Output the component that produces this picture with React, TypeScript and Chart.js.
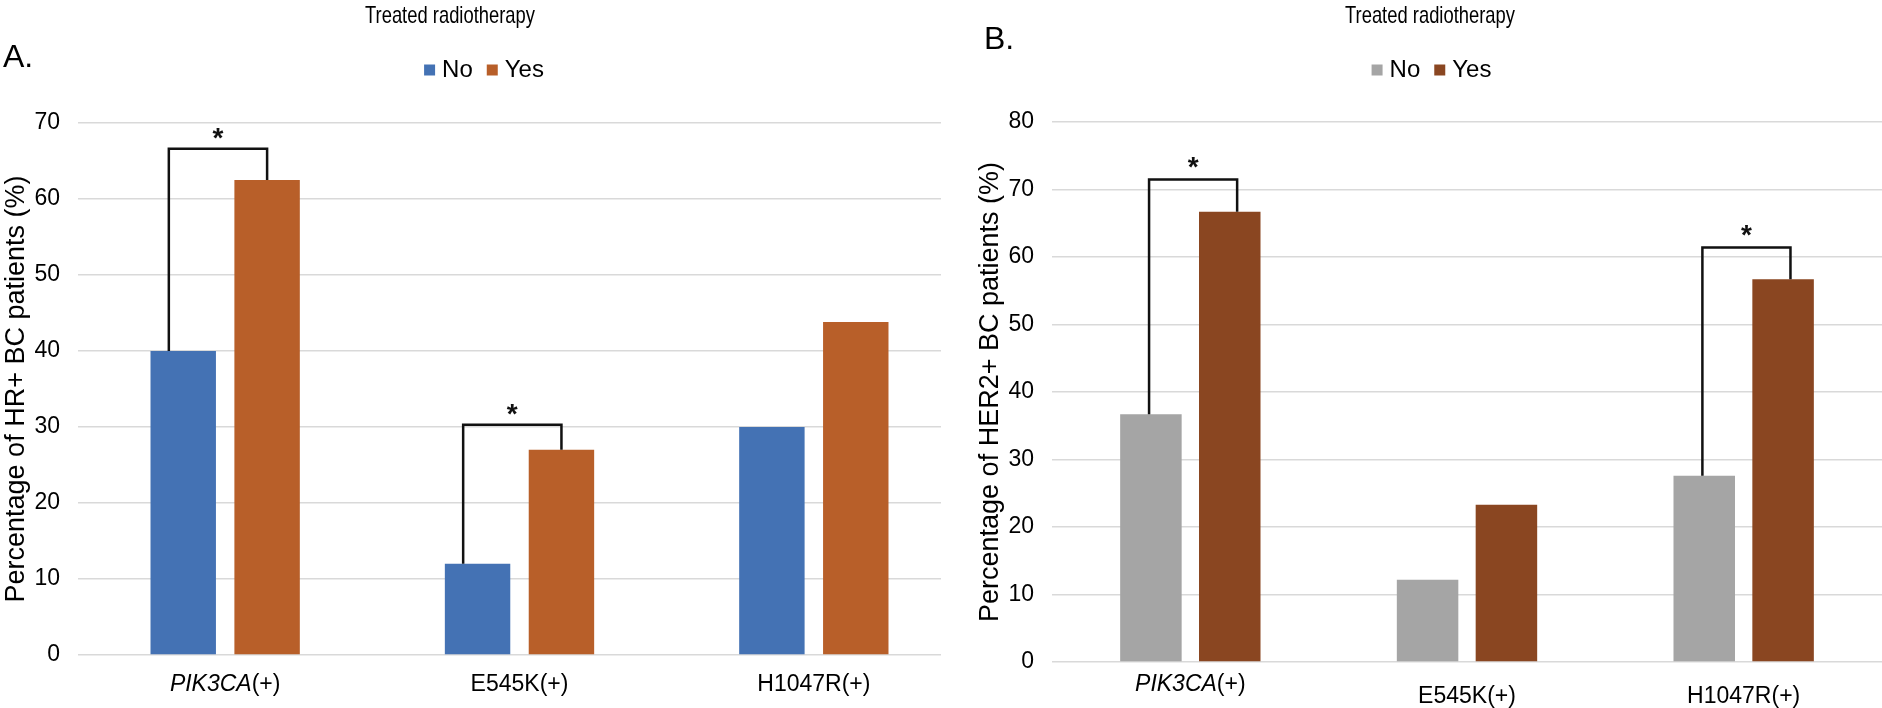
import React, { useEffect, useRef } from 'react';
import { Chart, registerables } from 'chart.js';

Chart.register(...registerables);

// ---------- data ----------
const categories = ['PIK3CA(+)', 'E545K(+)', 'H1047R(+)'];
const italicPrefixes = ['PIK3CA'];
const seriesNames = ['No', 'Yes'];
const chartTitle = 'Treated radiotherapy';

const hrNo = [40, 12, 30];
const hrYes = [62.5, 27, 43.8];
const hrMax = 70;
const hrBracketIndex = [0, 1];
const hrBracketHeight = [66.6, 30.3];

const her2No = [36.7, 12.2, 27.6];
const her2Yes = [66.7, 23.3, 56.7];
const her2Max = 80;
const her2BracketIndex = [0, 2];
const her2BracketHeight = [71.5, 61.4];

const tickStep = 10;
const sigMark = '*';

const FONT = "'Liberation Sans', Arial, sans-serif";
const NARROW = "'Liberation Sans Narrow', 'Liberation Sans', Arial, sans-serif";
const TITLE_WIDTH = 170;

interface PanelCfg {
  letter: string;
  letterX: number;
  letterY: number;
  titleX: number;
  yTitle: string;
  no: number[];
  yes: number[];
  max: number;
  colors: [string, string];
  bracketIndex: number[];
  bracketHeight: number[];
  leftShift: number;
  rightShift: number;
  starGap: number;
  labelOffsets: number[];
  padLeft: number;
  padBottom: number;
  spacer: number;
}

const panelA: PanelCfg = {
  letter: 'A.',
  letterX: 3,
  letterY: 67,
  titleX: 450,
  yTitle: 'Percentage of HR+ BC patients (%)',
  no: hrNo,
  yes: hrYes,
  max: hrMax,
  colors: ['#4472B4', '#B85F29'],
  bracketIndex: hrBracketIndex,
  bracketHeight: hrBracketHeight,
  leftShift: -0.22,
  rightShift: 0,
  starGap: 15,
  labelOffsets: [36, 36, 36],
  padLeft: 12,
  padBottom: 53,
  spacer: 31,
};

const panelB: PanelCfg = {
  letter: 'B.',
  letterX: 24,
  letterY: 49,
  titleX: 470,
  yTitle: 'Percentage of HER2+ BC patients (%)',
  no: her2No,
  yes: her2Yes,
  max: her2Max,
  colors: ['#A5A5A5', '#8A4621'],
  bracketIndex: her2BracketIndex,
  bracketHeight: her2BracketHeight,
  leftShift: -0.03,
  rightShift: 0.12,
  starGap: 17,
  labelOffsets: [29, 41, 41],
  padLeft: 26,
  padBottom: 46,
  spacer: 30,
};

function makeOverlay(cfg: PanelCfg) {
  return {
    id: 'overlay',
    afterDatasetsDraw(chart: any) {
      const ctx: CanvasRenderingContext2D = chart.ctx;
      const ys = chart.scales.y;
      const m0 = chart.getDatasetMeta(0);
      const m1 = chart.getDatasetMeta(1);
      ctx.save();
      ctx.strokeStyle = '#111';
      ctx.fillStyle = '#111';
      ctx.lineWidth = 2.5;
      ctx.lineJoin = 'miter';
      ctx.lineCap = 'butt';
      cfg.bracketIndex.forEach((idx, k) => {
        const b0: any = m0.data[idx];
        const b1: any = m1.data[idx];
        const lx = b0.x + cfg.leftShift * b0.width;
        const rx = b1.x + cfg.rightShift * b1.width;
        const top = ys.getPixelForValue(cfg.bracketHeight[k]);
        ctx.beginPath();
        ctx.moveTo(lx, b0.y);
        ctx.lineTo(lx, top);
        ctx.lineTo(rx, top);
        ctx.lineTo(rx, b1.y);
        ctx.stroke();
        ctx.font = `bold 28px ${FONT}`;
        ctx.textAlign = 'center';
        ctx.textBaseline = 'alphabetic';
        const mt = ctx.measureText(sigMark);
        const cy = top - cfg.starGap;
        ctx.fillText(
          sigMark,
          (lx + rx) / 2,
          cy + (mt.actualBoundingBoxAscent - mt.actualBoundingBoxDescent) / 2
        );
      });
      ctx.restore();
    },
    afterDraw(chart: any) {
      const ctx: CanvasRenderingContext2D = chart.ctx;
      const xs = chart.scales.x;
      ctx.save();
      ctx.fillStyle = '#000';
      ctx.textAlign = 'left';
      ctx.textBaseline = 'alphabetic';
      const fItal = `italic 23px ${NARROW}`;
      const fNorm = `23px ${NARROW}`;
      categories.forEach((label, i) => {
        const px = xs.getPixelForValue(i);
        const prefix = italicPrefixes.find((p) => label.startsWith(p)) || '';
        const rest = label.slice(prefix.length);
        ctx.font = fItal;
        const w1 = prefix ? ctx.measureText(prefix).width : 0;
        ctx.font = fNorm;
        const w2 = ctx.measureText(rest).width;
        const x0 = px - (w1 + w2) / 2;
        const by = chart.chartArea.bottom + cfg.labelOffsets[i];
        if (prefix) {
          ctx.font = fItal;
          ctx.fillText(prefix, x0, by);
        }
        ctx.font = fNorm;
        ctx.fillText(rest, x0 + w1, by);
      });
      // panel letter
      ctx.font = `32px ${FONT}`;
      ctx.fillText(cfg.letter, cfg.letterX, cfg.letterY);
      // chart title
      ctx.font = `24px ${NARROW}`;
      const tw = ctx.measureText(chartTitle).width;
      ctx.save();
      ctx.translate(cfg.titleX, 23);
      ctx.scale(Math.min(1, TITLE_WIDTH / tw), 1);
      ctx.textAlign = 'center';
      ctx.fillText(chartTitle, 0, 0);
      ctx.restore();
      ctx.restore();
    },
  };
}

function Panel({ cfg, left, width, clip }: { cfg: PanelCfg; left: number; width: number; clip: number }) {
  const ref = useRef<HTMLCanvasElement>(null);
  useEffect(() => {
    const chart = new Chart(ref.current as HTMLCanvasElement, {
      type: 'bar',
      data: {
        labels: categories,
        datasets: [
          {
            label: seriesNames[0],
            data: cfg.no,
            backgroundColor: cfg.colors[0],
            borderWidth: 0,
            xAxisID: 'x',
            yAxisID: 'y',
            categoryPercentage: 0.57,
            barPercentage: 0.78,
          },
          {
            label: seriesNames[1],
            data: cfg.yes,
            backgroundColor: cfg.colors[1],
            borderWidth: 0,
            xAxisID: 'x',
            yAxisID: 'y',
            categoryPercentage: 0.57,
            barPercentage: 0.78,
          },
        ],
      },
      options: {
        responsive: false,
        animation: false,
        layout: { padding: { left: cfg.padLeft, right: 0, top: 39, bottom: cfg.padBottom } },
        font: { family: NARROW },
        plugins: {
          tooltip: { enabled: false },
          title: { display: false },
          legend: {
            display: true,
            labels: {
              usePointStyle: true,
              pointStyle: 'rect',
              boxWidth: 1,
              boxHeight: 11,
              padding: 19,
              color: '#000',
              font: { family: NARROW, size: 24 },
            },
          },
        },
        scales: {
          x: {
            display: false,
          },
          spacer: {
            type: 'category',
            position: 'top',
            grid: { display: false },
            border: { display: false },
            ticks: { display: false },
            afterFit: (s: any) => {
              s.height = cfg.spacer;
            },
          },
          y: {
            min: 0,
            max: cfg.max,
            afterFit: (s: any) => {
              s.width = 66;
            },
            ticks: {
              stepSize: tickStep,
              padding: 18,
              color: '#000',
              font: { family: NARROW, size: 23 },
            },
            grid: { color: '#d9d9d9', lineWidth: 1.5, drawTicks: false },
            border: { display: false },
            title: {
              display: true,
              text: cfg.yTitle,
              color: '#000',
              font: { family: FONT, size: 27 },
              padding: { top: -12, bottom: 0 },
            },
          },
        } as any,
      },
      plugins: [makeOverlay(cfg)],
    });
    return () => chart.destroy();
  }, []);
  return (
    <div style={{ position: 'absolute', left, top: 0, width: clip, height: 708, overflow: 'hidden' }}>
      <canvas ref={ref} width={width} height={708} style={{ width, height: 708, display: 'block' }} />
    </div>
  );
}

export default function App() {
  return (
    <div style={{ position: 'fixed', left: 0, top: 0, width: 1882, height: 708, background: '#fff' }}>
      <Panel cfg={panelA} left={0} width={961} clip={941} />
      <Panel cfg={panelB} left={960} width={922} clip={922} />
    </div>
  );
}
